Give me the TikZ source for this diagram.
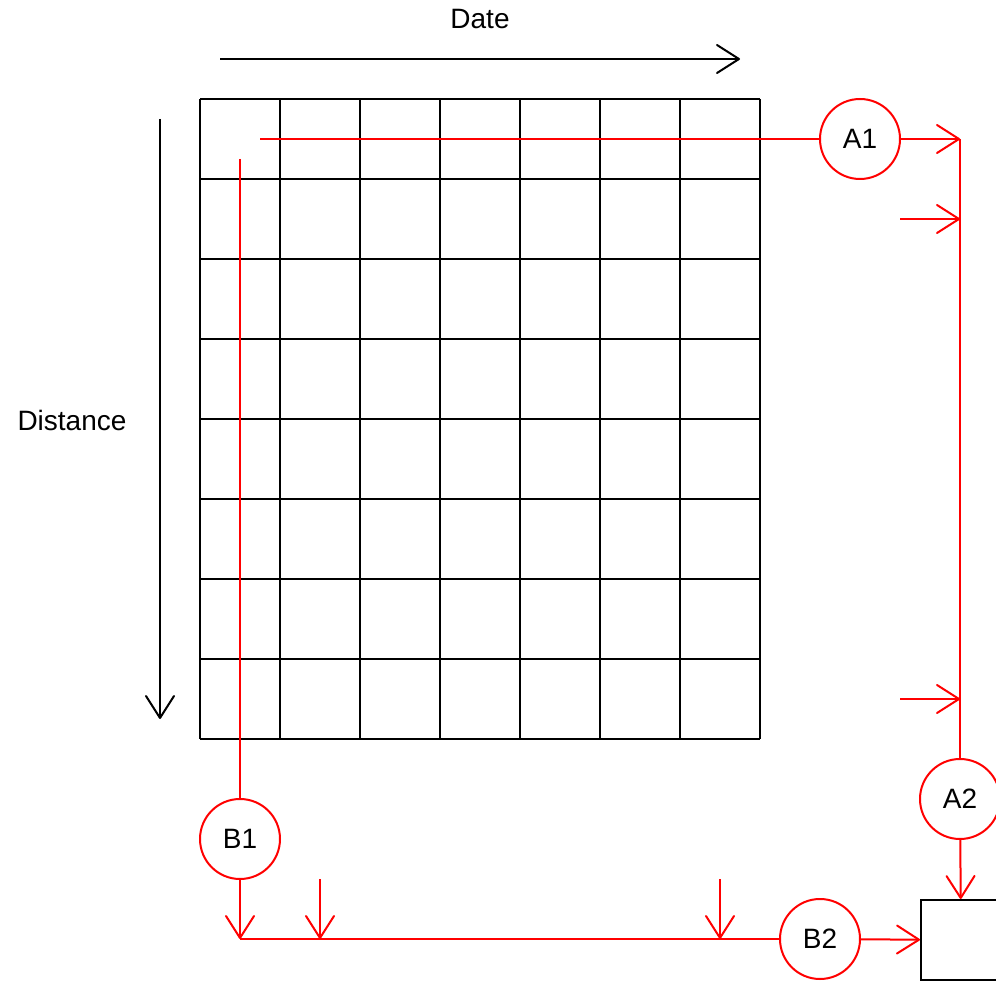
\documentclass[tikz,border=0pt]{standalone}
\usepackage{fontspec}
\setmainfont{Liberation Sans}
\usetikzlibrary{arrows.meta, positioning}

\begin{document}
\begin{tikzpicture}[
    x=0.5pt, y=-0.5pt,
    every node/.style={font=\fontsize{14}{16}\selectfont},
    cell/.style={draw, line width=1pt},
    stage/.style={circle, draw=red, line width=1pt, minimum size=40pt, inner sep=0pt},
    sink/.style={rectangle, draw, line width=1pt, minimum size=40pt, inner sep=0pt},
    arrow/.style={-{Straight Barb[length=11pt, width=14pt, round]}, line width=1pt},
    flow/.style={arrow, red},
    link/.style={red, line width=1pt}
]
\useasboundingbox (0,0) rectangle (996,983);

% axes
\node (date) at (480,19) {Date};
\node (dist) at (72,420) {Distance};
\coordinate (dateS) at (220,59);
\coordinate (dateE) at (740,59);
\coordinate (distS) at (160,119);
\coordinate (distE) at (160,719);
\draw[arrow] (dateS) -- (dateE);
\draw[arrow] (distS) -- (distE);

% grid
\foreach \i in {0,...,7}
    \draw[cell] ({200+80*\i},99) -- ({200+80*\i},739);
\foreach \j in {0,...,8}
    \draw[cell] (200,{99+80*\j}) -- (760,{99+80*\j});

\node[stage] (A1) at (860,139) {A1};
\node[stage] (A2) at (960,799) {A2};
\node[stage] (B1) at (240,839) {B1};
\node[stage] (B2) at (820,939) {B2};
\node[sink, anchor=north west] (out) at (920,899) {};

\coordinate (rowS) at (260,139);
\coordinate (colS) at (240,159);
\coordinate (mergeA) at (960,139);
\coordinate (mergeB) at (240,939);
\coordinate (inA2) at (900,219);
\coordinate (inA3) at (900,699);
\coordinate (inB2) at (320,879);
\coordinate (inB3) at (720,879);

% A path
\draw[link] (rowS) -- (A1);
\draw[flow] (A1) -- (mergeA);
\draw[link] (mergeA) -- (A2);
\draw[flow] (inA2) -- (inA2 -| mergeA);
\draw[flow] (inA3) -- (inA3 -| mergeA);
\draw[flow] (A2) -- (out);

% B path
\draw[link] (colS) -- (B1);
\draw[flow] (B1) -- (mergeB);
\draw[link] (mergeB) -- (B2);
\draw[flow] (inB2) -- (inB2 |- mergeB);
\draw[flow] (inB3) -- (inB3 |- mergeB);
\draw[flow] (B2) -- (out);

\end{tikzpicture}
\end{document}
